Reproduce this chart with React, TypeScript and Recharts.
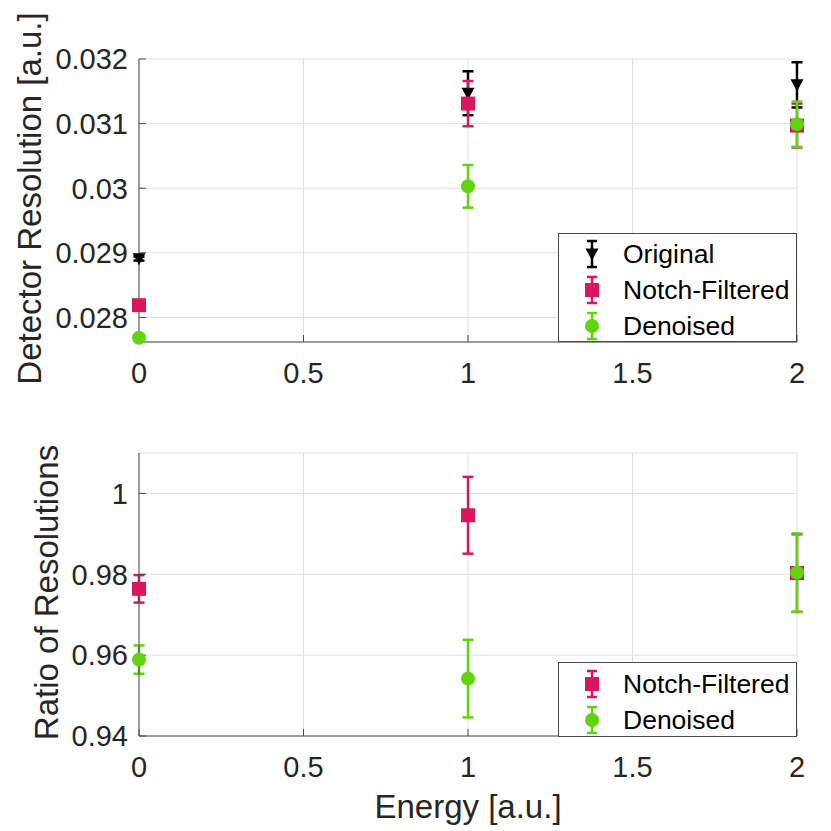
import { ScatterChart, Scatter, XAxis, YAxis, CartesianGrid, ErrorBar } from 'recharts'

const energy = [0, 1, 2]
const energyTicks = [0, 0.5, 1, 1.5, 2]

// top panel: detector resolution
const originalRes = [0.02891, 0.03147, 0.0316]
const originalErr = [0.00003, 0.00034, 0.00035]
const notchRes = [0.02819, 0.03131, 0.03097]
const notchErr = [0.00004, 0.00035, 0.00034]
const denoisedRes = [0.027685, 0.03003, 0.03099]
const denoisedErr = [0.00003, 0.00033, 0.00035]
const resTicks = [0.028, 0.029, 0.03, 0.031, 0.032]
const resDomain = [0.02762, 0.032]

// bottom panel: ratio to original
const notchRatio = [0.9764, 0.9946, 0.9803]
const notchRatioErr = [0.0034, 0.0095, 0.0096]
const denoisedRatio = [0.9589, 0.9542, 0.9804]
const denoisedRatioErr = [0.0035, 0.0096, 0.0097]
const ratioTicks = [0.94, 0.96, 0.98, 1]
const ratioDomain = [0.94, 1.01]

const BLACK = '#000000'
const PINK = '#db1660'
const GREEN = '#5ed50f'
const AXIS = '#4a4a4a'
const TEXT = '#262626'
const FONT = '"Liberation Sans", Arial, Helvetica, sans-serif'

const toPoints = (ys: number[], errs: number[]) => energy.map((x, i) => ({ x, y: ys[i], err: errs[i] }))

const square = (color: string) => ({ cx, cy }: any) => <rect x={cx - 7} y={cy - 7} width={14} height={14} fill={color} />
const circle = (color: string) => ({ cx, cy }: any) => <circle cx={cx} cy={cy} r={7} fill={color} />
const triangle = (color: string) => ({ cx, cy }: any) => (
  <polygon points={`${cx - 6.5},${cy - 5.5} ${cx + 6.5},${cy - 5.5} ${cx},${cy + 6.5}`} fill={color} />
)

const tickStyle = { fontSize: 29, fill: TEXT, fontFamily: FONT }
const fmt = (v: number) => String(v)
const blank = () => ''

const yTitle = (text: string, gap: number) => (props: any) => {
  const vb = props.viewBox || {}
  const bx = vb.x + vb.width - gap
  const cy = vb.y + vb.height / 2 - 2
  return (
    <text x={bx} y={cy} transform={`rotate(-90 ${bx} ${cy})`} textAnchor="middle" fontSize={33} fill={TEXT} fontFamily={FONT}>
      {text}
    </text>
  )
}

const xTitle = (text: string) => (props: any) => {
  const vb = props.viewBox || {}
  return (
    <text x={vb.x + vb.width / 2} y={vb.y + 82} textAnchor="middle" fontSize={33} fill={TEXT} fontFamily={FONT}>
      {text}
    </text>
  )
}

const LegendIcon = ({ color, shape }: { color: string; shape: string }) => (
  <svg width={30} height={36} style={{ display: 'block' }}>
    <line x1={15} y1={5} x2={15} y2={31} stroke={color} strokeWidth={2.5} />
    <line x1={10} y1={5} x2={20} y2={5} stroke={color} strokeWidth={2.5} />
    <line x1={10} y1={31} x2={20} y2={31} stroke={color} strokeWidth={2.5} />
    {shape === 'square' && <rect x={8} y={11} width={14} height={14} fill={color} />}
    {shape === 'circle' && <circle cx={15} cy={18} r={7} fill={color} />}
    {shape === 'triangle' && <polygon points="8.5,12.5 21.5,12.5 15,24.5" fill={color} />}
  </svg>
)

const Legend = ({ items, left, top, height, padTop }: any) => (
  <div style={{
    position: 'absolute', left, top, width: 239, height, boxSizing: 'border-box',
    border: `1px solid ${AXIS}`, background: '#fff', paddingTop: padTop,
  }}>
    {items.map((it: any) => (
      <div key={it.name} style={{ display: 'flex', alignItems: 'center', height: 36 }}>
        <div style={{ width: 62, display: 'flex', justifyContent: 'center', paddingLeft: 2 }}>
          <LegendIcon color={it.color} shape={it.shape} />
        </div>
        <span style={{ fontSize: 26.5, lineHeight: '36px', color: '#000', fontFamily: FONT }}>{it.name}</span>
      </div>
    ))}
  </div>
)

const Mirrors = () => null

export default function App() {
  return (
    <div style={{ position: 'absolute', left: 0, top: 0, width: 831, height: 831, background: '#fff' }}>
      {/* Top panel */}
      <div style={{ position: 'absolute', left: 0, top: 0 }}>
        <ScatterChart width={831} height={400} margin={{ top: 59, right: 34, bottom: 28, left: 79 }}>
          <CartesianGrid stroke="#dfdfdf" strokeWidth={1} />
          <XAxis type="number" dataKey="x" domain={[0, 2]} ticks={energyTicks} tickFormatter={fmt} height={30}
            tick={tickStyle} tickSize={-7} tickMargin={27} stroke={AXIS} />
          <XAxis xAxisId="top" orientation="top" type="number" domain={[0, 2]} ticks={energyTicks} allowDataOverflow
            tickFormatter={blank} height={0} tickSize={-7} stroke={AXIS} />
          <YAxis type="number" dataKey="y" domain={resDomain} ticks={resTicks} tickFormatter={fmt} width={60}
            tick={tickStyle} tickSize={-7} tickMargin={18} stroke={AXIS}
            label={yTitle('Detector Resolution [a.u.]', 98)} />
          <YAxis yAxisId="right" orientation="right" type="number" domain={resDomain} ticks={resTicks} allowDataOverflow
            tickFormatter={blank} width={0} tickSize={-7} stroke={AXIS} />
          <Scatter name="Original" data={toPoints(originalRes, originalErr)} fill={BLACK} shape={triangle(BLACK)} isAnimationActive={false}>
            <ErrorBar dataKey="err" direction="y" width={5.5} stroke={BLACK} strokeWidth={2.5} isAnimationActive={false} />
          </Scatter>
          <Scatter name="Notch-Filtered" data={toPoints(notchRes, notchErr)} fill={PINK} shape={square(PINK)} isAnimationActive={false}>
            <ErrorBar dataKey="err" direction="y" width={5.5} stroke={PINK} strokeWidth={2.5} isAnimationActive={false} />
          </Scatter>
          <Scatter name="Denoised" data={toPoints(denoisedRes, denoisedErr)} fill={GREEN} shape={circle(GREEN)} isAnimationActive={false}>
            <ErrorBar dataKey="err" direction="y" width={5.5} stroke={GREEN} strokeWidth={2.5} isAnimationActive={false} />
          </Scatter>
        </ScatterChart>
      </div>
      <Legend left={558} top={233} height={109} padTop={1.5} items={[
        { name: 'Original', color: BLACK, shape: 'triangle' },
        { name: 'Notch-Filtered', color: PINK, shape: 'square' },
        { name: 'Denoised', color: GREEN, shape: 'circle' },
      ]} />

      {/* Bottom panel */}
      <div style={{ position: 'absolute', left: 0, top: 400 }}>
        <ScatterChart width={831} height={431} margin={{ top: 53, right: 34, bottom: 65, left: 79 }}>
          <CartesianGrid stroke="#dfdfdf" strokeWidth={1} />
          <XAxis type="number" dataKey="x" domain={[0, 2]} ticks={energyTicks} tickFormatter={fmt} height={30}
            tick={tickStyle} tickSize={-7} tickMargin={27} stroke={AXIS} label={xTitle('Energy [a.u.]')} />
          <XAxis xAxisId="top" orientation="top" type="number" domain={[0, 2]} ticks={energyTicks} allowDataOverflow
            tickFormatter={blank} height={0} tickSize={-7} stroke={AXIS} />
          <YAxis type="number" dataKey="y" domain={ratioDomain} ticks={ratioTicks} tickFormatter={fmt} width={60}
            tick={tickStyle} tickSize={-7} tickMargin={18} stroke={AXIS}
            label={yTitle('Ratio of Resolutions', 81)} />
          <YAxis yAxisId="right" orientation="right" type="number" domain={ratioDomain} ticks={ratioTicks} allowDataOverflow
            tickFormatter={blank} width={0} tickSize={-7} stroke={AXIS} />
          <Scatter name="Notch-Filtered" data={toPoints(notchRatio, notchRatioErr)} fill={PINK} shape={square(PINK)} isAnimationActive={false}>
            <ErrorBar dataKey="err" direction="y" width={5.5} stroke={PINK} strokeWidth={2.5} isAnimationActive={false} />
          </Scatter>
          <Scatter name="Denoised" data={toPoints(denoisedRatio, denoisedRatioErr)} fill={GREEN} shape={circle(GREEN)} isAnimationActive={false}>
            <ErrorBar dataKey="err" direction="y" width={5.5} stroke={GREEN} strokeWidth={2.5} isAnimationActive={false} />
          </Scatter>
        </ScatterChart>
      </div>
      <Legend left={558} top={662} height={75} padTop={3} items={[
        { name: 'Notch-Filtered', color: PINK, shape: 'square' },
        { name: 'Denoised', color: GREEN, shape: 'circle' },
      ]} />
      <Mirrors />
    </div>
  )
}
